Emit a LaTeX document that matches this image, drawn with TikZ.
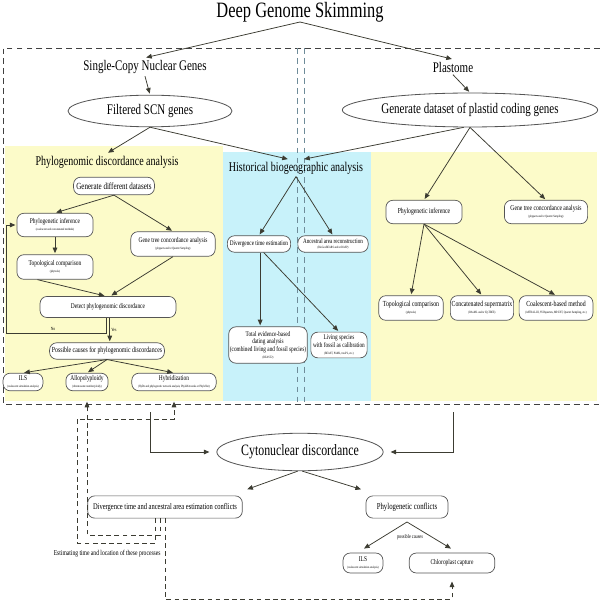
\documentclass[tikz,border=0pt]{standalone}
\usepackage{fontspec}
\setmainfont[FakeStretch=0.75]{Liberation Serif}
\usetikzlibrary{shapes.geometric,arrows.meta}

\definecolor{yellowpanel}{HTML}{FCFBC9}
\definecolor{bluepanel}{HTML}{C8F2FA}
\definecolor{boxline}{HTML}{555555}
\definecolor{arrline}{HTML}{3C3C32}
\definecolor{midline}{HTML}{6F8C99}

% tiny second line inside a box
\newcommand{\subtxt}[1]{\\[-1.5pt]{\fontsize{2.8}{3}\selectfont #1}}

\tikzset{
  box/.style={draw=boxline, fill=white, rounded corners=6pt, line width=0.6pt, align=center, inner sep=1pt},
  oval/.style={ellipse, draw=boxline, fill=white, line width=0.7pt, inner sep=0pt},
  arr/.style={draw=arrline, line width=0.65pt, shorten >=1pt, -{Triangle[length=4.8pt,width=4pt]}},
  dasharr/.style={arr, dash pattern=on 4pt off 3pt},
  dashframe/.style={draw=black!75, line width=0.7pt, dash pattern=on 5pt off 3.5pt},
  midln/.style={draw=midline, line width=0.7pt, dash pattern=on 5pt off 3.5pt},
  headtxt/.style={font=\fontsize{12.5}{14}\selectfont, inner sep=2pt},
  paneltxt/.style={font=\fontsize{11.4}{13}\selectfont, inner sep=2pt},
  smallfont/.style={font=\fontsize{6.2}{7}\selectfont},
  lbl/.style={font=\fontsize{4}{4.5}\selectfont, inner sep=1pt},
}

\begin{document}
\begin{tikzpicture}[x=0.03cm,y=-0.03cm]
\useasboundingbox (0,0) rectangle (600,600);

% panels and frame
\fill[yellowpanel] (5,146) rectangle (223,401);
\fill[bluepanel] (223,152) rectangle (371,401);
\fill[yellowpanel] (371,152) rectangle (597,401);
\draw[dashframe] (600,48) -- (3,48) -- (3,404) -- (600,404);
\draw[midln] (297,48) -- (297,404);
\draw[midln] (304,48) -- (304,404);

% top
\node[font=\fontsize{18.7}{20}\selectfont] (dgs) at (300,12) {Deep Genome Skimming};
\coordinate (dgsfoot) at (300,22);
\node[headtxt] (scn) at (145,67) {Single-Copy Nuclear Genes};
\node[headtxt] (plas) at (453,67) {Plastome};
\node[oval, minimum width=140pt, minimum height=27pt, font=\fontsize{12.5}{14}\selectfont] (filt) at (150,111) {Filtered SCN genes};
\node[oval, minimum width=218pt, minimum height=29pt, font=\fontsize{12.5}{14}\selectfont] (gen) at (470,110) {Generate dataset of plastid coding genes};

\draw[arr] (dgsfoot) -- (scn.north);
\draw[arr] (dgsfoot) -- (plas.north);
\draw[arr] (scn.south) -- (filt.north);
\draw[arr] (plas.south) -- (gen.north);

\node[paneltxt] (pda) at (107,162) {Phylogenomic discordance analysis};
\node[paneltxt] (hba) at (296,168) {Historical biogeographic analysis};
\draw[arr] (filt.south) -- (pda.north);
\draw[arr] (filt.south) -- ([xshift=-6pt]hba.north);
\draw[arr] (gen.250) -- ([xshift=6pt]hba.north);

% phylogenomic discordance (left)
\node[box, minimum width=69pt, minimum height=15pt, font=\fontsize{8}{9}\selectfont] (gends) at (114,186) {Generate different datasets};
\node[box, minimum width=65pt, minimum height=20pt, smallfont] (phyL) at (55,225) {Phylogenetic inference\subtxt{(coalescent and concatenated methods)}};
\node[box, minimum width=72pt, minimum height=21pt, smallfont] (gtcL) at (173,244) {Gene tree concordance analysis\subtxt{(phyparts and/or Quartet Sampling)}};
\node[box, minimum width=65pt, minimum height=21pt, smallfont] (topoL) at (55,267) {Topological comparison\subtxt{(phytools)}};
\node[box, minimum width=116pt, minimum height=18pt, smallfont] (detect) at (108,307) {Detect phylogenomic discordance};
\node[box, minimum width=98pt, minimum height=14pt, font=\fontsize{6.6}{7.5}\selectfont] (causes) at (107,351) {Possible causes for phylogenomic discordances};
\node[box, minimum width=34pt, minimum height=15pt, smallfont] (ilsL) at (23,382) {ILS\subtxt{(coalescent simulation analysis)}};
\node[box, minimum width=36pt, minimum height=15pt, smallfont] (allo) at (87,382) {Allopolyploidy\subtxt{(chromosome number/ploidy)}};
\node[box, minimum width=72pt, minimum height=15pt, smallfont] (hyb) at (174,382) {Hybridization\subtxt{(HyDe and phylogenetic network analysis; PhyloNetworks or PhyloNet)}};

\draw[arr] (gends.south) -- (phyL.north);
\draw[arr] (gends.south) -- (gtcL.north);
\draw[arr] (phyL.south) -- (topoL.north);
\draw[arr] ([xshift=-15pt]topoL.south) -- ([xshift=-2pt]detect.north);
\draw[arr] (gtcL.south) -- ([xshift=2pt]detect.north);
\draw[arr] ([xshift=-1.5pt]detect.south) |- (6,333) |- (phyL.west);
\node[lbl] (nolbl) at (53,329) {No};
\draw[arr] ([xshift=1.5pt]detect.south) -- ([xshift=1.5pt]detect.south |- causes.north) node[midway, right, lbl] (yeslbl) {Yes};
\draw[arr] (causes.south) -- (ilsL.north);
\draw[arr] (causes.south) -- (allo.north);
\draw[arr] (causes.south) -- (hyb.north);

% historical biogeography (middle)
\node[box, minimum width=54pt, minimum height=14pt, font=\fontsize{6}{6.8}\selectfont] (divt) at (259,244) {Divergence time estimation};
\node[box, minimum width=60pt, minimum height=14pt, font=\fontsize{5.8}{6.6}\selectfont] (anc) at (333,244) {Ancestral area reconstruction\subtxt{(BioGeoBEARS and/or RASP)}};
\node[box, minimum width=65pt, minimum height=31pt, font=\fontsize{6}{6.8}\selectfont] (ted) at (268,345) {Total evidence-based\\dating analysis\\(combined living and fossil species)\subtxt{(BEAST2)}};
\node[box, minimum width=48pt, minimum height=22pt, font=\fontsize{6}{6.8}\selectfont] (liv) at (339,345) {Living species\\with fossil as calibration\subtxt{(BEAST, PAML, treePL, etc.)}};

\draw[arr] (hba.south) -- (divt.north);
\draw[arr] (hba.south) -- (anc.north);
\draw[arr] ([xshift=1pt]divt.south) -- ([xshift=1pt]divt.south |- ted.north);
\draw[arr] ([xshift=4pt]divt.south) -- (liv.north);

% plastome (right)
\node[box, minimum width=65pt, minimum height=20pt, font=\fontsize{6.5}{7.3}\selectfont] (phyR) at (424,212) {Phylogenetic inference};
\node[box, minimum width=71pt, minimum height=20pt, font=\fontsize{6.4}{7.2}\selectfont] (gtcR) at (546,212) {Gene tree concordance analysis\subtxt{(phyparts and/or Quartet Sampling)}};
\node[box, minimum width=55pt, minimum height=21pt, font=\fontsize{6.6}{7.4}\selectfont] (topoR) at (411,308) {Topological comparison\subtxt{(phytools)}};
\node[box, minimum width=54pt, minimum height=21pt, font=\fontsize{6.6}{7.4}\selectfont] (concat) at (482,308) {Concatenated supermatrix\subtxt{(RAxML and/or IQ-TREE)}};
\node[box, minimum width=63pt, minimum height=21pt, font=\fontsize{6.6}{7.4}\selectfont] (coal) at (556,308) {Coalescent-based method\subtxt{(ASTRAL-III, SVDquartets, MP-EST, Quartet Sampling, etc.)}};

\draw[arr] (gen.south) -- (phyR.north);
\draw[arr] (gen.south) -- (gtcR.north);
\draw[arr] (phyR.south) -- (topoR.north);
\draw[arr] (phyR.south) -- (concat.north);
\draw[arr] (phyR.south) -- (coal.north);

% cytonuclear discordance
\node[oval, minimum width=140pt, minimum height=32pt, font=\fontsize{13.5}{15}\selectfont] (cyto) at (300,452) {Cytonuclear discordance};
\node[box, minimum width=132pt, minimum height=19pt, font=\fontsize{7.4}{8.4}\selectfont] (divconf) at (165,507) {Divergence time and ancestral area estimation conflicts};
\node[box, minimum width=70pt, minimum height=19pt, font=\fontsize{7.7}{8.7}\selectfont] (phyconf) at (407,507) {Phylogenetic conflicts};
\node[box, minimum width=34pt, minimum height=17pt, smallfont] (ils2) at (363,563) {ILS\subtxt{(coalescent simulation analysis)}};
\node[box, minimum width=73pt, minimum height=17pt, font=\fontsize{6.2}{7}\selectfont] (chl) at (452,563) {Chloroplast capture};
\node[font=\fontsize{6.4}{7}\selectfont, anchor=east, inner sep=1pt] (estlbl) at (162,554) {Estimating time and location of these processes};
\node[font=\fontsize{4.8}{5}\selectfont, inner sep=1pt] (posslbl) at (410,537) {possible causes};

\coordinate (hybout) at (150,412);
\coordinate (plastout) at (453,412);
\draw[arr] (hybout) |- ([xshift=-5pt]cyto.west);
\draw[arr] (plastout) |- ([xshift=5pt]cyto.east);
\draw[arr] ([xshift=-2pt]cyto.south) -- ([xshift=3pt,yshift=5pt]divconf.north east);
\draw[arr] ([xshift=2pt]cyto.south) -- ([xshift=-3pt,yshift=5pt]phyconf.north west);
\draw[arr] ([yshift=-3pt]phyconf.south) -- ([yshift=3pt]ils2.north);
\draw[arr] ([yshift=-3pt]phyconf.south) -- ([yshift=3pt]chl.north);

% dashed feedback
\coordinate (dashbase) at (452,599);
\coordinate (alloleg) at (87,535);
\draw[dasharr] (divconf.south) |- (dashbase) -- ([yshift=-6pt]chl.south);
\draw[dasharr] ([xshift=-4.25pt]divconf.south) |- (alloleg) -- ([yshift=-8pt]allo.south);
\draw[dasharr] ([xshift=-8.5pt]divconf.south) |- (77,543) |- (174,419) -- ([yshift=-8pt]hyb.south);
\end{tikzpicture}
\end{document}
